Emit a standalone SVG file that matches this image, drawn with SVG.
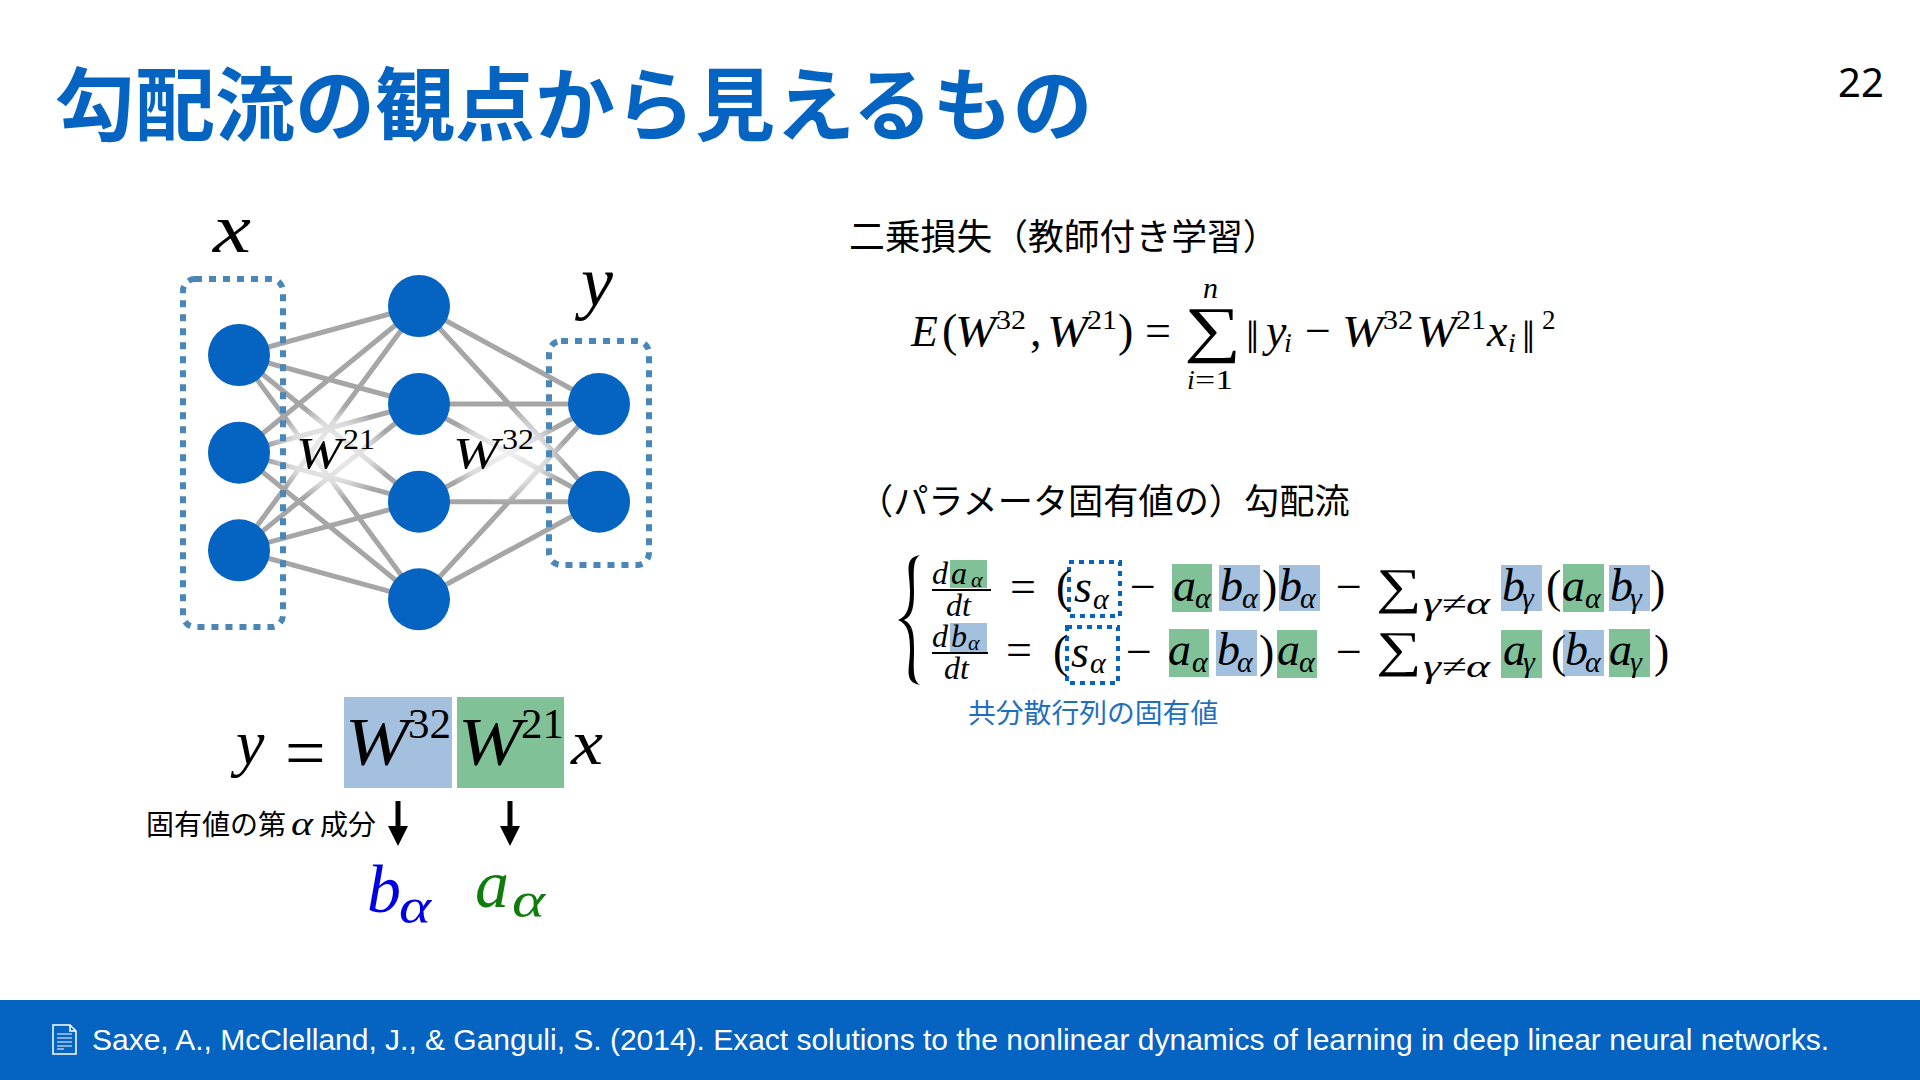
<svg xmlns="http://www.w3.org/2000/svg" width="1920" height="1080" viewBox="0 0 1920 1080">
<style>
.jp{font-family:"Noto Sans CJK JP","Noto Sans",sans-serif}
.m,.u{font-family:"Liberation Serif","DejaVu Serif",serif;fill:#000}
.m{font-style:italic}
.s45{font-size:46px}.s26{font-size:28px}.s30{font-size:30px}
.blue{fill:#a3c1de}.green{fill:#80c197}
.n{fill:#0563c1}
.e{stroke:#a6a6a6;stroke-width:5;fill:none}
.db{fill:none;stroke:#4a86b8;stroke-width:6;stroke-dasharray:7 7}
.ds{fill:none;stroke:#0563c1;stroke-width:4;stroke-dasharray:5 5}
.b{stroke:#000;stroke-width:2;fill:none}
.ar{stroke:#000;stroke-width:5;fill:none}
</style>
<defs>
<radialGradient id="haze"><stop offset="0" stop-color="#fff" stop-opacity=".85"/><stop offset=".65" stop-color="#fff" stop-opacity=".6"/><stop offset="1" stop-color="#fff" stop-opacity="0"/></radialGradient>
<marker id="ah" markerUnits="userSpaceOnUse" markerWidth="20" markerHeight="20" refX="1" refY="10" orient="auto"><polygon points="0,0 20,10 0,20"/></marker>
</defs>
<rect width="1920" height="1080" fill="#fff"/>
<text id="title" class="jp" x="55" y="134" font-size="80" font-weight="700" fill="#0563c1">勾配流の観点から見えるもの</text>
<text id="page" x="1838" y="97" font-family="Noto Sans" font-size="40" fill="#000">22</text>

<g id="connectors">
<path class="e" d="M239 355L419 306M239 355L419 404M239 355L419 501.7M239 355L419 599.3M239 452.7L419 306M239 452.7L419 404M239 452.7L419 501.7M239 452.7L419 599.3M239 550.3L419 306M239 550.3L419 404M239 550.3L419 501.7M239 550.3L419 599.3M419 306L599 404M419 306L599 501.7M419 404L599 404M419 404L599 501.7M419 501.7L599 404M419 501.7L599 501.7M419 599.3L599 404M419 599.3L599 501.7"/>
<ellipse cx="330" cy="453" rx="62" ry="48" fill="url(#haze)"/>
<ellipse cx="505" cy="455" rx="62" ry="48" fill="url(#haze)"/>
</g>
<g id="box-x"><rect class="db" x="183" y="279" width="100" height="348" rx="12"/></g>
<g id="box-y"><rect class="db" x="549" y="341" width="100" height="224" rx="12"/></g>
<g id="n1"><circle class="n" cx="239" cy="355" r="31"/></g>
<g id="n2"><circle class="n" cx="239" cy="452.7" r="31"/></g>
<g id="n3"><circle class="n" cx="239" cy="550.3" r="31"/></g>
<g id="n4"><circle class="n" cx="419" cy="306" r="31"/></g>
<g id="n5"><circle class="n" cx="419" cy="404" r="31"/></g>
<g id="n6"><circle class="n" cx="419" cy="501.7" r="31"/></g>
<g id="n7"><circle class="n" cx="419" cy="599.3" r="31"/></g>
<g id="n8"><circle class="n" cx="599" cy="404" r="31"/></g>
<g id="n9"><circle class="n" cx="599" cy="501.7" r="31"/></g>
<text class="m" x="213" y="252" font-size="70" textLength="38" lengthAdjust="spacingAndGlyphs">x</text>
<text class="m" x="581" y="306" font-size="72">y</text>
<text class="m" x="296" y="468" font-size="44" textLength="46" lengthAdjust="spacingAndGlyphs">W</text><text class="u" x="343" y="449" font-size="30" textLength="32" lengthAdjust="spacingAndGlyphs">21</text>
<text class="m" x="453" y="468" font-size="44" textLength="46" lengthAdjust="spacingAndGlyphs">W</text><text class="u" x="502" y="449" font-size="30" textLength="32" lengthAdjust="spacingAndGlyphs">32</text>

<g id="product">
<rect class="blue" x="344" y="697" width="108" height="91"/>
<rect class="green" x="457" y="697" width="107" height="91"/>
<text class="m" x="236" y="764" font-size="64">y</text>
<text class="u" x="285" y="777" font-size="72">=</text>
<text class="m" x="345" y="764" font-size="68" textLength="64" lengthAdjust="spacingAndGlyphs">W</text><text class="u" x="408" y="738" font-size="42" textLength="43" lengthAdjust="spacingAndGlyphs">32</text>
<text class="m" x="458" y="764" font-size="68" textLength="64" lengthAdjust="spacingAndGlyphs">W</text><text class="u" x="521" y="738" font-size="42" textLength="43" lengthAdjust="spacingAndGlyphs">21</text>
<text class="m" x="571" y="764" font-size="64" textLength="32" lengthAdjust="spacingAndGlyphs">x</text>
<text class="jp" x="146" y="835" font-size="28" fill="#000">固有値の第</text>
<text class="m" x="291" y="835" font-size="34" textLength="22" lengthAdjust="spacingAndGlyphs">α</text>
<text class="jp" x="320" y="835" font-size="28" fill="#000">成分</text>
<line class="ar" x1="398" y1="801" x2="398" y2="827" marker-end="url(#ah)"/>
<line class="ar" x1="510" y1="801" x2="510" y2="827" marker-end="url(#ah)"/>
<text class="m" x="367" y="912" font-size="68" style="fill:#0000e6">b</text><text class="m" x="399" y="923" font-size="50" textLength="32" lengthAdjust="spacingAndGlyphs" style="fill:#0000e6">α</text>
<text class="m" x="475" y="907" font-size="68" style="fill:#0e7d0e">a</text><text class="m" x="512" y="917" font-size="50" textLength="33" lengthAdjust="spacingAndGlyphs" style="fill:#0e7d0e">α</text>
</g>

<text class="jp" x="849" y="250" font-size="35.8" fill="#000">二乗損失（教師付き学習）</text>
<g id="loss">
<text class="m" x="911" y="346" font-size="44">E</text>
<text class="u s45" x="942" y="346">(</text>
<text class="m" x="955" y="346" font-size="44" textLength="41" lengthAdjust="spacingAndGlyphs">W</text><text class="u" x="996" y="329" font-size="27" textLength="30" lengthAdjust="spacingAndGlyphs">32</text>
<text class="u s45" x="1030" y="346">,</text>
<text class="m" x="1047" y="346" font-size="44" textLength="41" lengthAdjust="spacingAndGlyphs">W</text><text class="u" x="1087" y="329" font-size="27" textLength="30" lengthAdjust="spacingAndGlyphs">21</text>
<text class="u s45" x="1118" y="346">)</text>
<text class="u s45" x="1145" y="346">=</text>
<text class="u" transform="translate(1184,350) scale(1.11,.866)" font-size="72">∑</text>
<text class="m s30" x="1203" y="298">n</text>
<text class="m s26" x="1187" y="389">i</text><text class="u s26" x="1195" y="389" textLength="38" lengthAdjust="spacingAndGlyphs">=1</text>
<text class="u s45" x="1246" y="353">‖</text>
<text class="m s45" x="1266" y="346">y</text><text class="m s26" x="1284" y="352">i</text>
<text class="u s45" x="1305" y="346">−</text>
<text class="m" x="1342" y="346" font-size="44" textLength="41" lengthAdjust="spacingAndGlyphs">W</text><text class="u" x="1383" y="329" font-size="27" textLength="30" lengthAdjust="spacingAndGlyphs">32</text>
<text class="m" x="1416" y="346" font-size="44" textLength="41" lengthAdjust="spacingAndGlyphs">W</text><text class="u" x="1456" y="329" font-size="27" textLength="30" lengthAdjust="spacingAndGlyphs">21</text>
<text class="m s45" x="1487" y="346">x</text><text class="m s26" x="1508" y="352">i</text>
<text class="u s45" x="1522" y="353">‖</text>
<text class="u" x="1542" y="329" font-size="27">2</text>
</g>

<text class="jp" x="858" y="514" font-size="35.2" fill="#000">（パラメータ固有値の）勾配流</text>

<g id="flow">
<path d="M920 555C903 558 910 572 910 590C910 606 908 616 898 620C908 624 910 634 910 650C910 668 903 682 920 685C912 680 914 666 914 650C914 634 913 624 904 620C913 616 914 606 914 590C914 574 912 560 920 555Z" fill="#000"/>
<rect class="green" x="950" y="560" width="37" height="28"/>
<rect class="green" x="1172" y="564" width="40" height="48"/>
<rect class="blue" x="1219" y="565" width="41" height="46"/>
<rect class="blue" x="1279" y="565" width="41" height="46"/>
<rect class="blue" x="1501" y="565" width="41" height="46"/>
<rect class="green" x="1563" y="564" width="41" height="48"/>
<rect class="blue" x="1609" y="565" width="41" height="46"/>
<rect class="blue" x="950" y="623" width="37" height="29"/>
<rect class="green" x="1169" y="629" width="40" height="48"/>
<rect class="blue" x="1216" y="630" width="41" height="46"/>
<rect class="green" x="1277" y="630" width="40" height="48"/>
<rect class="green" x="1501" y="630" width="41" height="48"/>
<rect class="blue" x="1563" y="630" width="41" height="46"/>
<rect class="green" x="1609" y="629" width="41" height="48"/>
<rect class="ds" x="1069" y="562" width="51" height="54"/>
<rect class="ds" x="1067" y="627" width="51" height="56"/>

<text class="m" x="932" y="584" font-size="32">d</text><text class="m" x="951" y="584" font-size="32">a</text><text class="m" x="971" y="587" font-size="22">α</text>
<line class="b" x1="932" y1="590" x2="991" y2="590"/>
<text class="m" x="946" y="616" font-size="32">dt</text>
<text class="u s45" x="1010" y="602">=</text>
<text class="u s45" x="1056" y="602">(</text>
<text class="m s45" x="1074" y="602">s</text><text class="m s30" x="1093" y="609">α</text>
<text class="u s45" x="1130" y="602">−</text>
<text class="m s45" x="1173" y="601">a</text><text class="m s30" x="1195" y="608">α</text>
<text class="m s45" x="1220" y="601">b</text><text class="m s30" x="1242" y="608">α</text>
<text class="u s45" x="1262" y="602">)</text>
<text class="m s45" x="1279" y="601">b</text><text class="m s30" x="1300" y="608">α</text>
<text class="u s45" x="1336" y="602">−</text>
<text class="u" transform="translate(1376,602.6) scale(1.14,.89)" font-size="56">∑</text>
<text class="m" x="1423" y="614" font-size="32" textLength="67" lengthAdjust="spacingAndGlyphs">γ≠α</text>
<text class="m s45" x="1502" y="601">b</text><text class="m s30" x="1522" y="608">γ</text>
<text class="u s45" x="1546" y="602">(</text>
<text class="m s45" x="1562" y="601">a</text><text class="m s30" x="1585" y="608">α</text>
<text class="m s45" x="1610" y="601">b</text><text class="m s30" x="1630" y="608">γ</text>
<text class="u s45" x="1650" y="602">)</text>

<text class="m" x="932" y="647" font-size="32">d</text><text class="m" x="951" y="647" font-size="32">b</text><text class="m" x="968" y="650" font-size="22">α</text>
<line class="b" x1="932" y1="653" x2="988" y2="653"/>
<text class="m" x="944" y="679" font-size="32">dt</text>
<text class="u s45" x="1006" y="665">=</text>
<text class="u s45" x="1053" y="667">(</text>
<text class="m s45" x="1071" y="667">s</text><text class="m s30" x="1090" y="673">α</text>
<text class="u s45" x="1126" y="667">−</text>
<text class="m s45" x="1168" y="665">a</text><text class="m s30" x="1192" y="672">α</text>
<text class="m s45" x="1217" y="665">b</text><text class="m s30" x="1237" y="672">α</text>
<text class="u s45" x="1259" y="667">)</text>
<text class="m s45" x="1277" y="665">a</text><text class="m s30" x="1299" y="672">α</text>
<text class="u s45" x="1336" y="667">−</text>
<text class="u" transform="translate(1376,665.6) scale(1.14,.89)" font-size="56">∑</text>
<text class="m" x="1423" y="677" font-size="32" textLength="67" lengthAdjust="spacingAndGlyphs">γ≠α</text>
<text class="m s45" x="1503" y="665">a</text><text class="m s30" x="1523" y="672">γ</text>
<text class="u s45" x="1551" y="667">(</text>
<text class="m s45" x="1565" y="665">b</text><text class="m s30" x="1585" y="672">α</text>
<text class="m s45" x="1609" y="665">a</text><text class="m s30" x="1630" y="672">γ</text>
<text class="u s45" x="1654" y="667">)</text>
</g>
<text class="jp" x="968" y="723" font-size="27.8" fill="#1f6fc0">共分散行列の固有値</text>

<g id="footer">
<rect x="0" y="1000" width="1920" height="80" fill="#0563c1"/>
<path d="M53 1025H70L76 1031V1054H53ZM70 1025V1031H76" fill="none" stroke="#fff" stroke-width="1.5"/>
<path d="M57 1034H72M57 1038H72M57 1042H72M57 1046H72M57 1049H64" fill="none" stroke="#fff" stroke-width="1.2"/>
<text x="92" y="1050" font-family="Liberation Sans" font-size="30" fill="#fff" textLength="1737" lengthAdjust="spacing">Saxe, A., McClelland, J., &amp; Ganguli, S. (2014). Exact solutions to the nonlinear dynamics of learning in deep linear neural networks.</text>
</g>
</svg>
